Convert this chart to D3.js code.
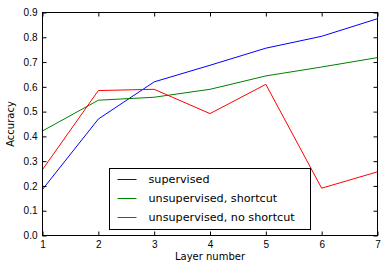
<!DOCTYPE html>
<html lang="en">
<head>
  <meta charset="UTF-8">
  <title>Accuracy by layer</title>
  <style>
    body { margin: 0; background: #fff; }
    svg { display: block; font-family: "DejaVu Sans", sans-serif; }
    .tick text { font-size: 10px; fill: #000; }
    .legend text { font-size: 11.2px; fill: #000; }
  </style>
</head>
<body>
  <svg width="387" height="271"></svg>
  <script src="https://d3js.org/d3.v7.min.js"></script>
  <script>
    const layers = [1, 2, 3, 4, 5, 6, 7];
    const supervised = [0.186, 0.47, 0.62, 0.687, 0.756, 0.804, 0.875];
    const shortcut = [0.422, 0.546, 0.558, 0.59, 0.644, 0.68, 0.718];
    const noShortcut = [0.266, 0.585, 0.59, 0.492, 0.61, 0.191, 0.257];
    const yTicks = [0, 0.1, 0.2, 0.3, 0.4, 0.5, 0.6, 0.7, 0.8, 0.9];

    const series = [
      { name: "supervised", values: supervised, color: "#0000ff" },
      { name: "unsupervised, shortcut", values: shortcut, color: "#008000" },
      { name: "unsupervised, no shortcut", values: noShortcut, color: "#ff0000" }
    ];

    const margin = { top: 12.5, right: 9.5, bottom: 35.5, left: 42.5 },
          width = 387 - margin.left - margin.right,
          height = 271 - margin.top - margin.bottom;

    const svg = d3.select("svg");
    const g = svg.append("g")
      .attr("transform", `translate(${margin.left},${margin.top})`);

    const x = d3.scaleLinear().domain([1, 7]).range([0, width]);
    const y = d3.scaleLinear().domain([0, 0.9]).range([height, 0]);

    const line = d3.line()
      .x((d, i) => x(layers[i]))
      .y(d => y(d));

    series.forEach(s => {
      g.append("path")
        .datum(s.values)
        .attr("fill", "none")
        .attr("stroke", s.color)
        .attr("stroke-width", 1)
        .attr("d", line);
    });

    // inward ticks on all four sides
    const axBottom = g.append("g")
      .attr("transform", `translate(0,${height})`)
      .call(d3.axisBottom(x).tickValues(layers).tickFormat(d3.format("d")).tickSizeInner(-4).tickSizeOuter(0).tickPadding(5.5));
    const axLeft = g.append("g")
      .call(d3.axisLeft(y).tickValues(yTicks).tickFormat(d3.format(".1f")).tickSizeInner(-4).tickSizeOuter(0).tickPadding(5));
    const axTop = g.append("g")
      .call(d3.axisTop(x).tickValues(layers).tickFormat("").tickSizeInner(-4).tickSizeOuter(0));
    const axRight = g.append("g")
      .attr("transform", `translate(${width},0)`)
      .call(d3.axisRight(y).tickValues(yTicks).tickFormat("").tickSizeInner(-4).tickSizeOuter(0));

    [axBottom, axLeft, axTop, axRight].forEach(a => {
      a.select(".domain").remove();
      a.selectAll("line").attr("stroke", "#000");
    });

    g.append("rect")
      .attr("width", width)
      .attr("height", height)
      .attr("fill", "none")
      .attr("stroke", "#000")
      .attr("stroke-width", 1);

    g.append("text")
      .attr("x", width / 2)
      .attr("y", height + 24.5)
      .attr("text-anchor", "middle")
      .attr("font-size", 10)
      .text("Layer number");

    g.append("text")
      .attr("transform", `translate(${-28.5},${height / 2}) rotate(-90)`)
      .attr("text-anchor", "middle")
      .attr("font-size", 10)
      .text("Accuracy");

    // legend
    const legend = svg.append("g").attr("class", "legend")
      .attr("transform", "translate(109.5,168.5)");
    legend.append("rect")
      .attr("width", 201)
      .attr("height", 61)
      .attr("fill", "#fff")
      .attr("stroke", "#000");
    series.forEach((s, i) => {
      const row = legend.append("g").attr("transform", `translate(0,${11 + i * 19})`);
      row.append("line")
        .attr("x1", 8).attr("x2", 27)
        .attr("stroke", s.color);
      row.append("text")
        .attr("x", 39)
        .attr("dy", "0.35em")
        .text(s.name);
    });
  </script>
</body>
</html>
